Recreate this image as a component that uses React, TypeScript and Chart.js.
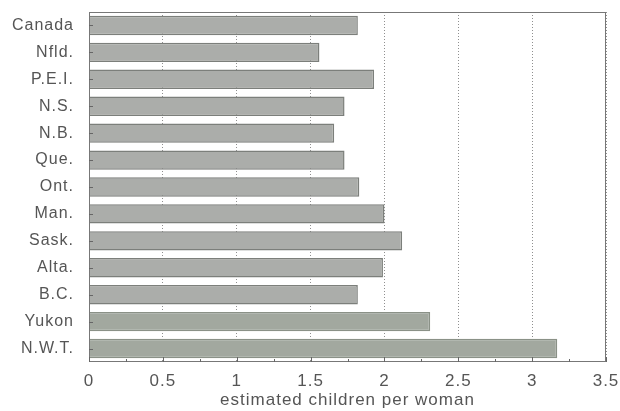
import React, { useEffect, useRef } from "react";
import { Chart, registerables } from "chart.js";

Chart.register(...registerables);

const provinces = ["Canada", "Nfld.", "P.E.I.", "N.S.", "N.B.", "Que.", "Ont.", "Man.", "Sask.", "Alta.", "B.C.", "Yukon", "N.W.T."];
const fertility = [1.82, 1.56, 1.93, 1.73, 1.66, 1.73, 1.83, 2.0, 2.12, 1.99, 1.82, 2.31, 3.17];
const xTicks = [0, 0.5, 1, 1.5, 2, 2.5, 3, 3.5];
const axisTitle = "estimated children per woman";

const fillColors = provinces.map((p) => (p === "Yukon" || p === "N.W.T." ? "#a2a89f" : "#abadaa"));
const borderColors = provinces.map((p) => (p === "Yukon" || p === "N.W.T." ? "#8a9187" : "#7c7f7b"));

const FONT = "Liberation Sans, Arial, sans-serif";

const spacingPlugin = {
  id: "spacing",
  beforeUpdate(chart: any) {
    chart.ctx.letterSpacing = "1px";
  },
  beforeLayout(chart: any) {
    chart.ctx.letterSpacing = "1px";
  },
  beforeDraw(chart: any) {
    chart.ctx.letterSpacing = "1px";
  },
};

const framePlugin = {
  id: "frame",
  afterDatasetsDraw(chart: any) {
    const { ctx, chartArea: a, scales } = chart;
    ctx.save();
    ctx.strokeStyle = "#777";
    ctx.lineWidth = 1;
    ctx.strokeRect(a.left + 0.5, a.top + 0.5, a.right - a.left - 1, a.bottom - a.top - 1);
    ctx.strokeStyle = "#666";
    const x = scales.x;
    ctx.beginPath();
    for (let v = 0; v <= 3.5 + 1e-9; v += 0.25) {
      const px = Math.round(x.getPixelForValue(v)) + 0.5;
      const len = Math.abs(v * 2 - Math.round(v * 2)) < 1e-6 ? 5 : 3;
      ctx.moveTo(px, a.bottom);
      ctx.lineTo(px, a.bottom - len);
    }
    const y = scales.y;
    provinces.forEach((_, i) => {
      const py = Math.round(y.getPixelForValue(i)) + 0.5;
      ctx.moveTo(a.left, py);
      ctx.lineTo(a.left + 4, py);
    });
    ctx.stroke();
    ctx.restore();
  },
};

export default function App() {
  const ref = useRef<HTMLCanvasElement>(null);
  useEffect(() => {
    document.body.style.margin = "0";
    const chart = new Chart(ref.current!, {
      type: "bar",
      data: {
        labels: provinces,
        datasets: [
          {
            data: fertility,
            backgroundColor: fillColors,
            borderColor: borderColors,
            borderWidth: 1.5,
            categoryPercentage: 1,
            barPercentage: 0.72,
          },
        ],
      },
      options: {
        indexAxis: "y",
        animation: false,
        responsive: false,
        maintainAspectRatio: false,
        layout: { padding: { top: 12, right: 14, left: 0, bottom: 0 } },
        plugins: { legend: { display: false }, tooltip: { enabled: false } },
        scales: {
          x: {
            type: "linear",
            min: 0,
            max: 3.5,
            afterBuildTicks: (s: any) => {
              s.ticks = xTicks.map((v) => ({ value: v }));
            },
            grid: {
              color: "#8f8f8f",
              lineWidth: 1,
              drawTicks: false,
            },
            border: { display: false },
            ticks: {
              color: "#555",
              font: { family: FONT, size: 17 },
              padding: 9,
              callback: (v: any) => String(v),
            },
            title: {
              display: true,
              text: axisTitle,
              color: "#555",
              font: { family: FONT, size: 17 },
              padding: { top: 5, bottom: 0 },
            },
            afterFit: (s: any) => {
              s.height = 49;
              s.paddingLeft = 0;
              s.paddingRight = 0;
            },
          } as any,
          y: {
            type: "category",
            grid: { display: false, drawTicks: false },
            border: { display: false },
            ticks: {
              color: "#555",
              font: { family: FONT, size: 16 },
              padding: 15,
            },
            afterFit: (s: any) => {
              s.width = 89;
              s.paddingTop = 0;
              s.paddingBottom = 0;
            },
          },
        },
      },
      plugins: [spacingPlugin, framePlugin],
    });
    (chart.options.scales as any).x.grid.borderDash = [1, 2];
    (chart.options.scales as any).x.border = { display: false, dash: [1, 2] };
    chart.update();
    return () => chart.destroy();
  }, []);
  return (
    <div style={{ width: 620, height: 411 }}>
      <canvas ref={ref} width={620} height={411} style={{ display: "block" }} />
    </div>
  );
}
